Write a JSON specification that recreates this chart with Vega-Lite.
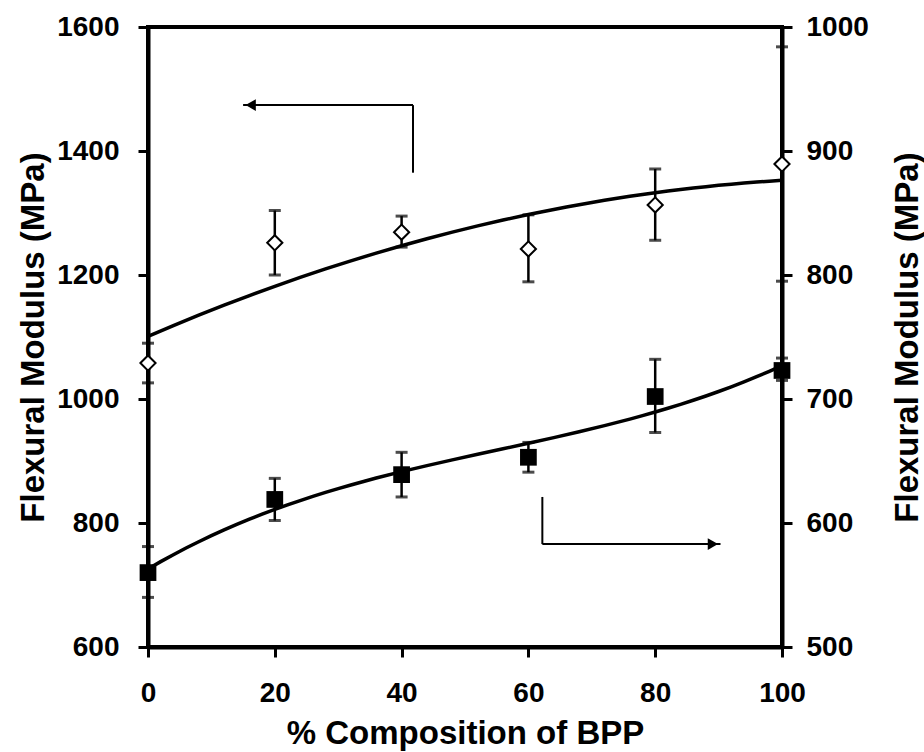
{
  "$schema": "https://vega.github.io/schema/vega-lite/v6.json",
  "width": 634,
  "height": 620,
  "autosize": {"type": "none"},
  "padding": {"left": 148, "top": 27, "right": 142, "bottom": 105},
  "background": "white",
  "config": {
    "font": "Liberation Sans",
    "view": {"stroke": "black", "strokeWidth": 4},
    "axis": {
      "grid": false,
      "domainColor": "black",
      "domainWidth": 4,
      "tickColor": "black",
      "tickWidth": 3,
      "tickSize": 10,
      "format": "d",
      "labelFont": "Liberation Sans",
      "labelFontWeight": "bold",
      "labelFontSize": 28,
      "labelColor": "black",
      "labelOverlap": false,
      "labelFlush": false,
      "titleFont": "Liberation Sans",
      "titleFontWeight": "bold",
      "titleFontSize": 33,
      "titleColor": "black"
    }
  },
  "datasets": {
    "left": [
      {"x": 0, "v": 1058, "lo": 1026, "hi": 1090},
      {"x": 20, "v": 1252, "lo": 1200, "hi": 1304},
      {"x": 40, "v": 1269, "lo": 1245, "hi": 1295},
      {"x": 60, "v": 1242, "lo": 1189, "hi": 1297},
      {"x": 80, "v": 1313, "lo": 1256, "hi": 1371},
      {"x": 100, "v": 1379, "lo": 1190, "hi": 1568}
    ],
    "right": [
      {"x": 0, "v": 560, "lo": 540, "hi": 581},
      {"x": 20, "v": 619, "lo": 602, "hi": 636},
      {"x": 40, "v": 639, "lo": 621, "hi": 657},
      {"x": 60, "v": 653, "lo": 641, "hi": 665},
      {"x": 80, "v": 702, "lo": 673, "hi": 732},
      {"x": 100, "v": 723, "lo": 715, "hi": 733}
    ],
    "arrowL": [
      {"x": 15, "x2": 41.8, "y": 1474, "y2": 1474},
      {"x": 41.8, "x2": 41.8, "y": 1474, "y2": 1365}
    ],
    "headL": [{"x": 16.2, "y": 1474}],
    "arrowR": [
      {"x": 62.2, "x2": 62.2, "y": 621, "y2": 583},
      {"x": 62.2, "x2": 90.3, "y": 583, "y2": 583}
    ],
    "headR": [{"x": 89.1, "y": 583}]
  },
  "layer": [
    {
      "data": {"name": "left"},
      "layer": [
        {
          "mark": {"type": "point", "shape": "diamond", "filled": true, "fill": "white", "stroke": "black", "strokeWidth": 0, "size": 1, "opacity": 0},
          "encoding": {
            "x": {
              "field": "x", "type": "quantitative",
              "scale": {"domain": [0, 100], "nice": false},
              "axis": {
                "orient": "bottom", "values": [0, 20, 40, 60, 80, 100],
                "labelPadding": 22,
                "title": "% Composition of BPP",
                "titleX": 317, "titleY": 96, "titleBaseline": "alphabetic", "titleAlign": "center"
              }
            },
            "y": {
              "field": "v", "type": "quantitative",
              "scale": {"domain": [600, 1600], "nice": false, "zero": false},
              "axis": {
                "orient": "left", "values": [600, 800, 1000, 1200, 1400, 1600],
                "labelPadding": 19,
                "title": "Flexural Modulus (MPa)",
                "titleAngle": -90, "titleX": -115, "titleY": 310, "titleAlign": "center", "titleBaseline": "middle"
              }
            }
          }
        },
        {
          "transform": [{"regression": "v", "on": "x", "method": "poly", "order": 2, "extent": [0, 100]}],
          "mark": {"type": "line", "color": "black", "strokeWidth": 3.5, "clip": false},
          "encoding": {
            "x": {"field": "x", "type": "quantitative"},
            "y": {"field": "v", "type": "quantitative"}
          }
        },
        {
          "mark": {"type": "rule", "color": "black", "strokeWidth": 2.5},
          "encoding": {
            "x": {"field": "x", "type": "quantitative"},
            "y": {"field": "lo", "type": "quantitative"},
            "y2": {"field": "hi"}
          }
        },
        {
          "mark": {"type": "tick", "orient": "horizontal", "color": "black", "size": 12, "thickness": 3},
          "encoding": {
            "x": {"field": "x", "type": "quantitative"},
            "y": {"field": "lo", "type": "quantitative"}
          }
        },
        {
          "mark": {"type": "tick", "orient": "horizontal", "color": "black", "size": 12, "thickness": 3},
          "encoding": {
            "x": {"field": "x", "type": "quantitative"},
            "y": {"field": "hi", "type": "quantitative"}
          }
        },
        {
          "mark": {"type": "point", "shape": "diamond", "filled": true, "fill": "white", "stroke": "black", "strokeWidth": 2, "size": 230, "opacity": 1},
          "encoding": {
            "x": {"field": "x", "type": "quantitative"},
            "y": {"field": "v", "type": "quantitative"}
          }
        },
        {
          "data": {"name": "arrowL"},
          "mark": {"type": "rule", "color": "black", "strokeWidth": 2},
          "encoding": {
            "x": {"field": "x", "type": "quantitative"},
            "x2": {"field": "x2"},
            "y": {"field": "y", "type": "quantitative"},
            "y2": {"field": "y2"}
          }
        },
        {
          "data": {"name": "headL"},
          "mark": {"type": "point", "shape": "triangle-left", "filled": true, "color": "black", "size": 140, "opacity": 1},
          "encoding": {
            "x": {"field": "x", "type": "quantitative"},
            "y": {"field": "y", "type": "quantitative"}
          }
        }
      ]
    },
    {
      "data": {"name": "right"},
      "layer": [
        {
          "mark": {"type": "point", "shape": "square", "filled": true, "color": "black", "size": 1, "opacity": 0},
          "encoding": {
            "x": {"field": "x", "type": "quantitative"},
            "y": {
              "field": "v", "type": "quantitative",
              "scale": {"domain": [500, 1000], "nice": false, "zero": false},
              "axis": {
                "orient": "right", "values": [500, 600, 700, 800, 900, 1000],
                "labelPadding": 14,
                "title": "Flexural Modulus (MPa)",
                "titleAngle": -90, "titleX": 125, "titleY": 310, "titleAlign": "center", "titleBaseline": "middle"
              }
            }
          }
        },
        {
          "transform": [{"regression": "v", "on": "x", "method": "poly", "order": 3, "extent": [0, 100]}],
          "mark": {"type": "line", "color": "black", "strokeWidth": 3.5, "clip": false},
          "encoding": {
            "x": {"field": "x", "type": "quantitative"},
            "y": {"field": "v", "type": "quantitative"}
          }
        },
        {
          "mark": {"type": "rule", "color": "black", "strokeWidth": 2.5},
          "encoding": {
            "x": {"field": "x", "type": "quantitative"},
            "y": {"field": "lo", "type": "quantitative"},
            "y2": {"field": "hi"}
          }
        },
        {
          "mark": {"type": "tick", "orient": "horizontal", "color": "black", "size": 12, "thickness": 3},
          "encoding": {
            "x": {"field": "x", "type": "quantitative"},
            "y": {"field": "lo", "type": "quantitative"}
          }
        },
        {
          "mark": {"type": "tick", "orient": "horizontal", "color": "black", "size": 12, "thickness": 3},
          "encoding": {
            "x": {"field": "x", "type": "quantitative"},
            "y": {"field": "hi", "type": "quantitative"}
          }
        },
        {
          "mark": {"type": "point", "shape": "square", "filled": true, "color": "black", "size": 280, "opacity": 1},
          "encoding": {
            "x": {"field": "x", "type": "quantitative"},
            "y": {"field": "v", "type": "quantitative"}
          }
        },
        {
          "data": {"name": "arrowR"},
          "mark": {"type": "rule", "color": "black", "strokeWidth": 2},
          "encoding": {
            "x": {"field": "x", "type": "quantitative"},
            "x2": {"field": "x2"},
            "y": {"field": "y", "type": "quantitative"},
            "y2": {"field": "y2"}
          }
        },
        {
          "data": {"name": "headR"},
          "mark": {"type": "point", "shape": "triangle-right", "filled": true, "color": "black", "size": 140, "opacity": 1},
          "encoding": {
            "x": {"field": "x", "type": "quantitative"},
            "y": {"field": "y", "type": "quantitative"}
          }
        }
      ]
    }
  ],
  "resolve": {"scale": {"y": "independent"}}
}
